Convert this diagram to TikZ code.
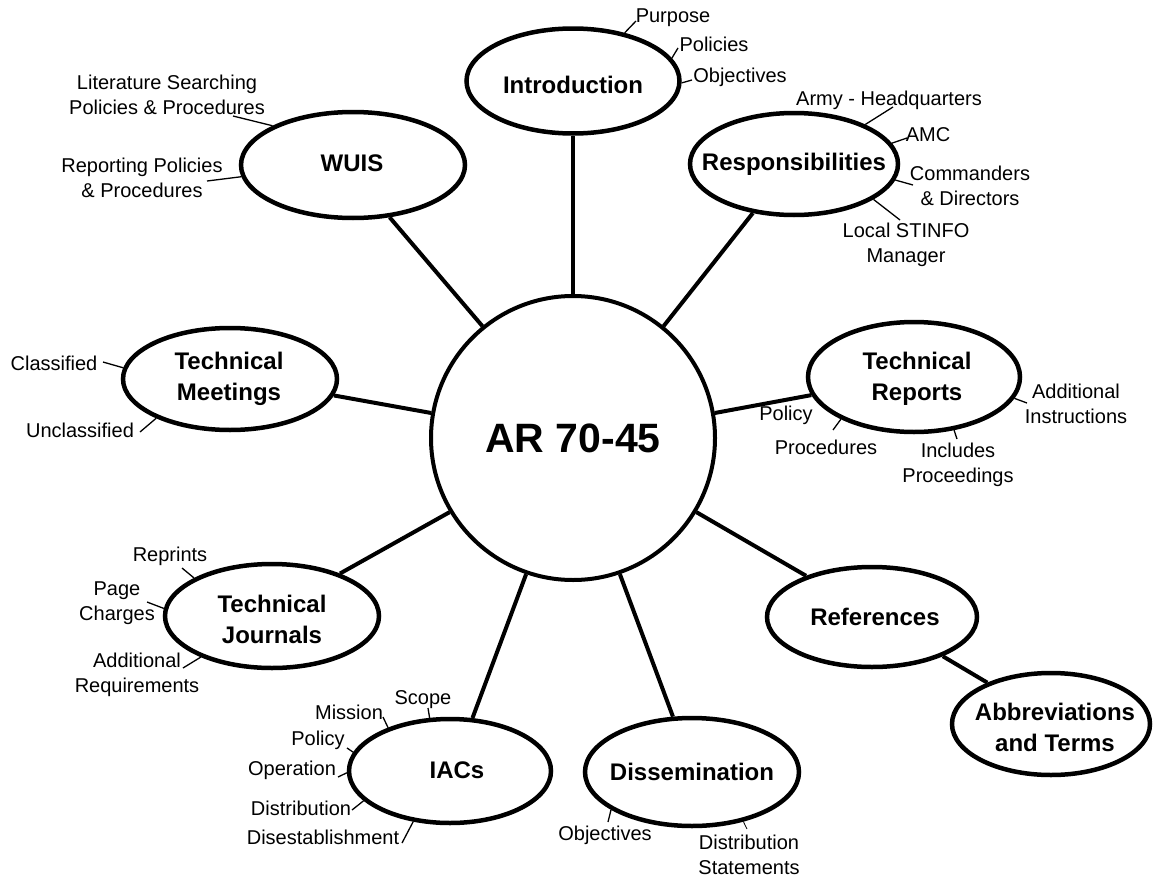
\documentclass[tikz,border=0pt]{standalone}
\usepackage{fontspec}
\setmainfont{Liberation Sans}
\usetikzlibrary{shapes.geometric}
\tikzset{
 topic/.style={ellipse, draw, line width=4.5pt, inner sep=0pt},
 ttl/.style={font=\fontsize{24}{31}\selectfont\bfseries, align=center, inner sep=0pt},
 hub/.style={circle, draw, line width=4pt, minimum size=284pt, inner sep=0pt, font=\fontsize{41}{48}\selectfont\bfseries},
 lab/.style={font=\fontsize{20}{25}\selectfont, align=center, inner sep=0pt},
 link/.style={line width=4pt},
 leader/.style={line width=1.3pt},
}
\begin{document}
\begin{tikzpicture}[x=1pt,y=-1pt]
\fill[white] (0,0) rectangle (1157,878);
\useasboundingbox (0,0) rectangle (1157,878);

% hub
\node[hub] (hub) at (573,438) {AR 70-45};

% topics
\node[topic, minimum width=213pt, minimum height=105pt] (intro) at (573,81) {};
\node[ttl] (introT) at (573,85) {Introduction};
\node[topic, minimum width=208pt, minimum height=102pt] (resp) at (794,164) {};
\node[ttl] (respT) at (794,164) {Responsibilities};
\node[topic, minimum width=224pt, minimum height=106pt] (wuis) at (353,165) {};
\node[ttl] (wuisT) at (352,163) {WUIS};
\node[topic, minimum width=214pt, minimum height=102pt] (tm) at (230,379) {};
\node[ttl] (tmT) at (229,379) {Technical\\Meetings};
\node[topic, minimum width=212pt, minimum height=110pt] (tr) at (914,377) {};
\node[ttl] (trT) at (917,379) {Technical\\Reports};
\node[topic, minimum width=214pt, minimum height=104pt] (tj) at (272,616) {};
\node[ttl] (tjT) at (272,619) {Technical\\Journals};
\node[topic, minimum width=202pt, minimum height=104pt] (iacs) at (450,771) {};
\node[ttl] (iacsT) at (457,770) {IACs};
\node[topic, minimum width=214pt, minimum height=108pt] (diss) at (692,772) {};
\node[ttl] (dissT) at (692,772) {Dissemination};
\node[topic, minimum width=210pt, minimum height=100pt] (refs) at (872,617) {};
\node[ttl] (refsT) at (875,617) {References};
\node[topic, minimum width=198pt, minimum height=102pt] (abbr) at (1051,724) {};
\node[ttl] (abbrT) at (1055,727) {Abbreviations\\and Terms};

% main connectors
\draw[link] (hub.90) -- (intro.270);
\draw[link] (hub.129) -- (wuis.305);
\draw[link] (hub.51) -- (resp.230);
\draw[link] (hub.170) -- (tm.-9);
\draw[link] (hub.10) -- (tr.190);
\draw[link] (hub.211) -- (tj.32);
\draw[link] (hub.251) -- (iacs.67);
\draw[link] (hub.289) -- (diss.109);
\draw[link] (hub.-31) -- (refs.148);
\draw[link] (refs.-29) -- (abbr.147);

% labels: Introduction
\node[lab] (purpose) at (673,18) {Purpose};
\node[lab] (ipol) at (714,44) {Policies};
\node[lab] (iobj) at (740,77) {Objectives};
\coordinate (cPur) at (636,21);
\coordinate (cIpol) at (678,48);
\coordinate (cIobj) at (692,80);
\draw[leader] (intro.43) -- (cPur);
\draw[leader] (intro.13) -- (cIpol);
\draw[leader] (intro.-1) -- (cIobj);

% Responsibilities
\node[lab] (army) at (889,100) {Army - Headquarters};
\node[lab] (amc) at (928,135) {AMC};
\node[lab] (comm) at (970,186) {Commanders\\\& Directors};
\node[lab] (local) at (906,245) {Local STINFO\\Manager};
\coordinate (cArmy) at (893,107);
\coordinate (cAmc) at (907,138);
\coordinate (cComm) at (913,185);
\coordinate (cLocal) at (900,220);
\draw[leader] (resp.29) -- (cArmy);
\draw[leader] (resp.12) -- (cAmc);
\draw[leader] (resp.-9) -- (cComm);
\draw[leader] (resp.-24) -- (cLocal);

% WUIS
\node[lab] (lit) at (167,95) {Literature Searching\\Policies \& Procedures};
\node[lab] (rep) at (142,178) {Reporting Policies\\\& Procedures};
\coordinate (cLit) at (233,116);
\coordinate (cRep) at (207,181);
\draw[leader] (wuis.154) -- (cLit);
\draw[leader] (wuis.186) -- (cRep);

% Technical Meetings
\node[lab] (cls) at (54,363) {Classified};
\node[lab] (ucls) at (80,430) {Unclassified};
\coordinate (cCls) at (103,362);
\coordinate (cUcls) at (140,432);
\draw[leader] (tm.174) -- (cCls);
\draw[leader] (tm.208) -- (cUcls);

% Technical Reports
\node[lab] (tpol) at (786,415) {Policy};
\node[lab] (tproc) at (826,447) {Procedures};
\node[lab] (incl) at (958,465) {Includes\\Proceedings};
\node[lab] (addi) at (1076,404) {Additional\\Instructions};
\coordinate (cTproc) at (833,430);
\coordinate (cIncl) at (957,439);
\coordinate (cAddi) at (1027,403);
\draw[leader] (tr.210) -- (cTproc);
\draw[leader] (tr.-53) -- (cIncl);
\draw[leader] (tr.-12) -- (cAddi);

% Technical Journals
\node[lab] (repr) at (170,556) {Reprints};
\node[lab] (page) at (117,603) {Page\\Charges};
\node[lab] (addr) at (137,675) {Additional\\Requirements};
\coordinate (cRepr) at (182,568);
\coordinate (cPage) at (147,602);
\coordinate (cAddr) at (183,668);
\draw[leader] (tj.154) -- (cRepr);
\draw[leader] (tj.176) -- (cPage);
\draw[leader] (tj.210) -- (cAddr);

% IACs
\node[lab] (scope) at (423,700) {Scope};
\node[lab] (miss) at (349,712) {Mission};
\node[lab] (apol) at (318,740) {Policy};
\node[lab] (oper) at (292,770) {Operation};
\node[lab] (adist) at (301,808) {Distribution};
\node[lab] (dises) at (323,837) {Disestablishment};
\coordinate (cScope) at (428,708);
\coordinate (cMiss) at (383,717);
\coordinate (cApol) at (347,748);
\coordinate (cOper) at (338,777);
\coordinate (cAdist) at (352,810);
\coordinate (cDises) at (402,843);
\draw[leader] (iacs.111) -- (cScope);
\draw[leader] (iacs.145) -- (cMiss);
\draw[leader] (iacs.169) -- (cApol);
\draw[leader] (iacs.181) -- (cOper);
\draw[leader] (iacs.199) -- (cAdist);
\draw[leader] (iacs.234) -- (cDises);

% Dissemination
\node[lab] (dobj) at (605,835) {Objectives};
\node[lab] (dstat) at (749,855) {Distribution\\Statements};
\coordinate (cDobj) at (608,822);
\coordinate (cDstat) at (747,829);
\draw[leader] (diss.205) -- (cDobj);
\draw[leader, line width=0.8pt] (diss.-44) -- (cDstat);
\end{tikzpicture}
\end{document}
